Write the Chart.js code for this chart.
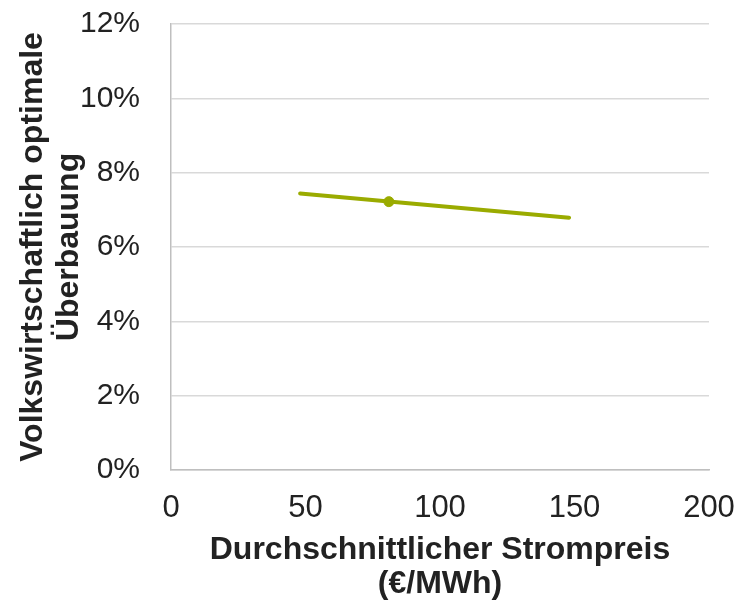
<!DOCTYPE html>
<html>
<head>
<meta charset="utf-8">
<script src="https://cdn.jsdelivr.net/npm/chart.js@4/dist/chart.umd.min.js"></script>
<style>
  html, body { margin: 0; padding: 0; background: #fff; }
  #wrap { width: 738px; height: 601px; }
</style>
</head>
<body>
<div id="wrap"><canvas id="c" width="738" height="601"></canvas></div>
<script>
// Linie: Strompreis (€/MWh) -> optimale Überbauung (%)
const lineX = [48, 148];
const lineY = [7.44, 6.79];
// markierter Punkt
const markX = [81];
const markY = [7.22];

const xTicks = [0, 50, 100, 150, 200];
const yTicks = [0, 2, 4, 6, 8, 10, 12];

const green = '#9aab00';
const font = 'Liberation Sans, Arial, sans-serif';

const toPts = (xs, ys) => xs.map((x, i) => ({ x: x, y: ys[i] }));

const ctx = document.getElementById('c').getContext('2d');
new Chart(ctx, {
    type: 'scatter',
    data: {
        datasets: [{
            data: toPts(lineX, lineY),
            showLine: true,
            borderColor: green,
            borderWidth: 4,
            pointRadius: 0,
            borderCapStyle: 'round'
        }, {
            data: toPts(markX, markY),
            backgroundColor: green,
            borderColor: green,
            pointRadius: 5
        }]
    },
    options: {
        responsive: false,
        animation: false,
        layout: { padding: { top: 24, right: 29, left: 0, bottom: 0 } },
        plugins: { legend: { display: false }, tooltip: { enabled: false } },
        scales: {
            x: {
                type: 'linear',
                min: 0, max: 200,
                afterBuildTicks: s => { s.ticks = xTicks.map(v => ({ value: v })); },
                afterFit: s => { s.height = 131; },
                // tick marks only used as spacing, drawn invisible
                grid: { display: true, drawOnChartArea: false, drawTicks: true, tickLength: 20, tickColor: 'rgba(0,0,0,0)' },
                border: { color: '#bfbfbf', width: 1.5 },
                ticks: { color: '#222', font: { family: font, size: 31 }, padding: 0 },
                title: {
                    display: true,
                    text: ['Durchschnittlicher Strompreis', '(€/MWh)'],
                    color: '#222',
                    font: { family: font, size: 32, weight: 'bold', lineHeight: 1.05 },
                    padding: { top: 4, bottom: 0 }
                }
            },
            y: {
                min: 0, max: 12,
                afterBuildTicks: s => { s.ticks = yTicks.map(v => ({ value: v })); },
                afterFit: s => { s.width = 171; },
                grid: { color: '#d9d9d9', lineWidth: 1.5, drawTicks: true, tickLength: 28, tickColor: 'rgba(0,0,0,0)' },
                border: { color: '#bfbfbf', width: 1.5 },
                ticks: { color: '#222', font: { family: font, size: 30 }, padding: 3, callback: v => v + '%' },
                title: {
                    display: true,
                    text: ['Volkswirtschaftlich optimale', 'Überbauung'],
                    color: '#222',
                    font: { family: font, size: 32, weight: 'bold', lineHeight: 1.1 },
                    padding: { bottom: 0, top: 16 }
                }
            }
        }
    }
});
</script>
</body>
</html>
